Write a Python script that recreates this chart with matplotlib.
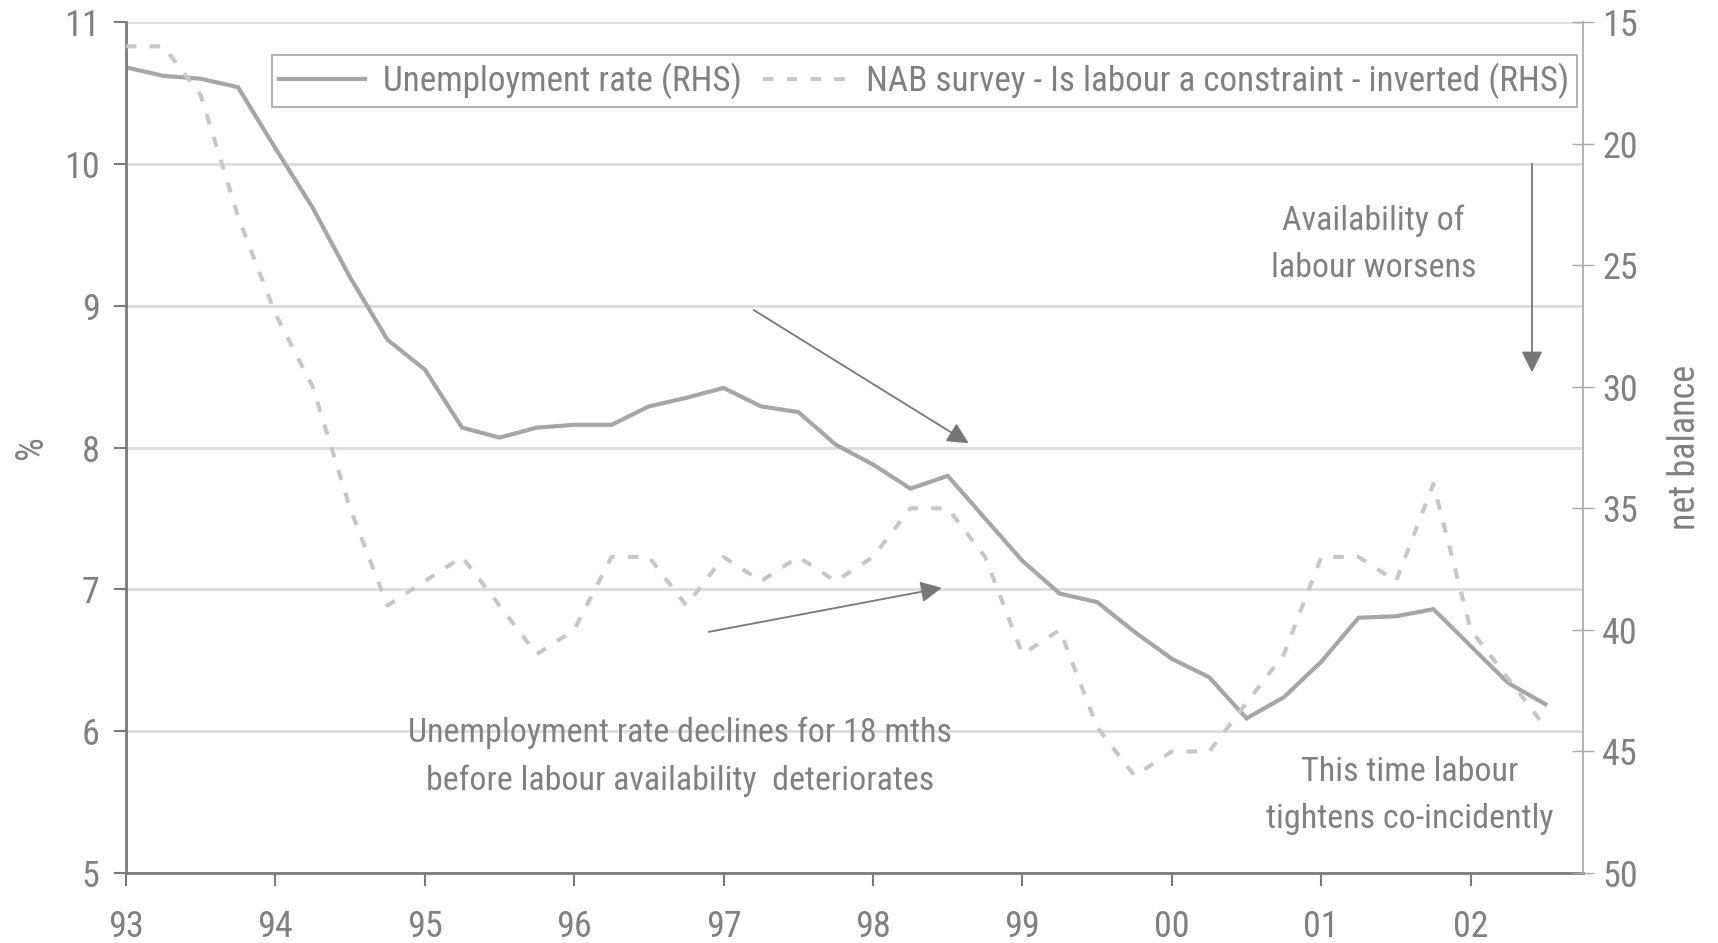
import numpy as np
import matplotlib.pyplot as plt
import matplotlib.font_manager as fm

# quarterly observations, 1993Q1 .. 2002Q3
quarters = 1993 + 0.25 * np.arange(39)

unemployment = [10.68, 10.62, 10.60, 10.54, 10.11, 9.69, 9.20, 8.76, 8.55, 8.14,
                8.07, 8.14, 8.16, 8.16, 8.29, 8.35, 8.42, 8.29, 8.25, 8.02,
                7.88, 7.71, 7.80, 7.50, 7.20, 6.97, 6.91, 6.70, 6.51, 6.38,
                6.09, 6.24, 6.49, 6.80, 6.81, 6.86, 6.60, 6.34, 6.19]

nab_labour = [16, 16, 18, 23, 27, 30, 35, 39, 38, 37,
              39, 41, 40, 37, 37, 39, 37, 38, 37, 38,
              37, 35, 35, 37, 41, 40, 44, 46, 45, 45,
              43, 41, 37, 37, 38, 34, 40, 42, 44]

year_ticks = list(range(1993, 2003))
year_labels = [f"{y % 100:02d}" for y in year_ticks]

names = {f.name for f in fm.fontManager.ttflist}
narrow = "Liberation Sans Narrow" if "Liberation Sans Narrow" in names else "Roboto Condensed"
plt.rcParams["font.family"] = [narrow, "Liberation Sans", "DejaVu Sans"]

txt = "#808080"
dark = "#7a7a7a"
light = "#a8a8a8"

fig = plt.figure(figsize=(17.18, 9.43), dpi=100)
ax = fig.add_axes([0.0733, 0.0742, 0.848, 0.9025])
ax2 = ax.twinx()

ax.set_xlim(1993, 2002.75)
ax.set_ylim(5, 11)
ax2.set_ylim(50, 15)

ax.set_yticks(range(5, 12))
ax.yaxis.grid(True, color="#dcdcdc", lw=2)
ax.set_axisbelow(True)
ax.set_xticks(year_ticks)
ax.set_xticklabels(year_labels)
ax2.set_yticks(range(15, 51, 5))

ax.tick_params(axis="y", direction="out", length=9, width=1.5, color=dark,
               labelsize=26, labelcolor=txt, pad=10)
ax.tick_params(axis="x", direction="out", length=9, width=1.5, color=dark,
               labelsize=26, labelcolor=txt, pad=17)
ax2.tick_params(axis="y", direction="inout", length=16, width=1, color=light,
                labelsize=26, labelcolor=txt, pad=6)

ax.spines["top"].set_visible(False)
ax2.spines["top"].set_visible(False)
ax.spines["left"].set_color(dark)
ax.spines["left"].set_linewidth(2)
ax.spines["bottom"].set_color(dark)
ax.spines["bottom"].set_linewidth(2)
ax2.spines["left"].set_visible(False)
ax2.spines["bottom"].set_visible(False)
ax2.spines["right"].set_color(light)
ax2.spines["right"].set_linewidth(1.2)
ax.spines["right"].set_visible(False)

ax.set_ylabel("%", fontsize=27, color=txt, labelpad=10)
ax2.set_ylabel("net balance", fontsize=26, color=txt, labelpad=21)

l1, = ax.plot(quarters, unemployment, color="#a6a6a6", lw=3, solid_joinstyle="miter",
              label="Unemployment rate (RHS)")
l2, = ax2.plot(quarters, nab_labour, color="#c6c6c6", lw=2.9, dashes=(2.6, 3.3),
               label="NAB survey - Is labour a constraint - inverted (RHS)")

leg = ax2.legend(handles=[l1, l2], loc="upper left", bbox_to_anchor=(0.1, 0.961),
                 ncol=2, fontsize=25.3, frameon=True, fancybox=False, borderaxespad=0,
                 handlelength=2.45, handletextpad=0.5, columnspacing=0.6,
                 borderpad=0.22, labelcolor=txt)
leg.get_frame().set_edgecolor("#8c8c8c")
leg.get_frame().set_linewidth(1.2)

arrow = dict(arrowstyle="-|>", color="#777777", lw=1.3, mutation_scale=32, shrinkA=0, shrinkB=0)
ax.annotate("", xy=(2002.41, 8.53), xytext=(2002.41, 10.0), arrowprops=arrow)
ax.annotate("", xy=(1998.64, 8.03), xytext=(1997.20, 8.97), arrowprops=arrow)
ax.annotate("", xy=(1998.46, 7.01), xytext=(1996.90, 6.70), arrowprops=arrow)

ax.text(2001.35, 9.43, "Availability of\nlabour worsens", ha="center", va="center",
        fontsize=24.5, color=txt, linespacing=1.6)
ax.text(1996.71, 5.82, "Unemployment rate declines for 18 mths\nbefore labour availability  deteriorates",
        ha="center", va="center", fontsize=24.5, color=txt, linespacing=1.6)
ax.text(2001.59, 5.55, "This time labour\ntightens co-incidently", ha="center", va="center",
        fontsize=24.5, color=txt, linespacing=1.6)

fig.savefig("out.png", dpi=100)
